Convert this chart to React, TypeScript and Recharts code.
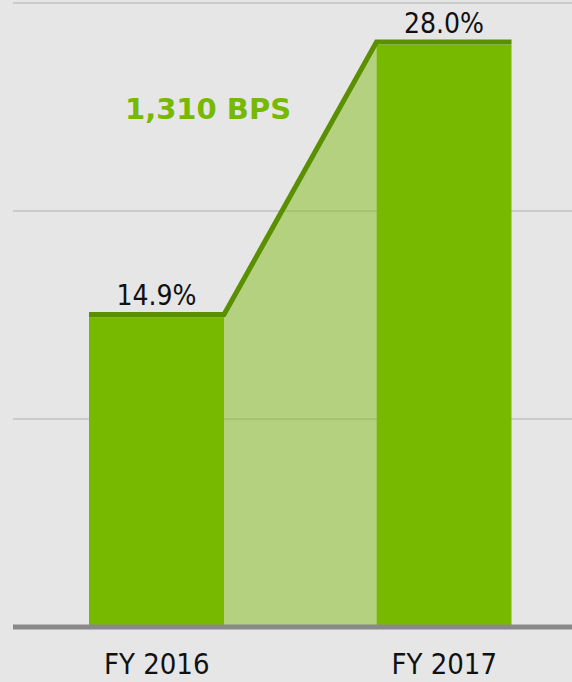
import * as React from "react";
import {
  BarChart,
  Bar,
  XAxis,
  YAxis,
  CartesianGrid,
  LabelList,
} from "recharts";

const CATEGORIES = ["FY 2016", "FY 2017"];
const MARGINS = [14.9, 28.0];
const Y_TICKS = [0, 10, 20, 30];
const CHANGE_LABEL = "1,310 BPS";

const COLORS = {
  background: "#e6e6e6",
  bar: "#76b900", // NVIDIA green
  line: "#5a9000",
  bridge: "#76b900",
  grid: "#cbcbcb",
  axis: "#898989",
  text: "#111111",
};

const LABEL_FONT = "'DejaVu Sans Condensed', 'DejaVu Sans', sans-serif";

// bar geometry gathered while rendering, used to draw the connector
const barGeo: Record<number, { x: number; y: number; width: number; height: number }> = {};

function BarShape(props: any) {
  const { x, y, width, height, index } = props;
  barGeo[index] = { x, y, width, height };
  const rect = <rect x={x} y={y} width={width} height={height} fill={COLORS.bar} />;
  const prev = barGeo[index - 1];
  if (index === 0 || !prev) return rect;

  const base = y + height;
  const x0 = prev.x + prev.width;
  const lw = 5;
  return (
    <g>
      {rect}
      <polygon
        points={`${x0},${prev.y} ${x},${y} ${x},${base} ${x0},${base}`}
        fill={COLORS.bridge}
        fillOpacity={0.45}
      />
      <path
        d={`M${prev.x},${prev.y - lw / 2} H${x0} L${x},${y - lw / 2} H${x + width}`}
        fill="none"
        stroke={COLORS.line}
        strokeWidth={lw}
      />
      <text
        x={x0 - 16}
        y={y + 74}
        textAnchor="middle"
        fill={COLORS.bar}
        fontFamily="'DejaVu Sans', sans-serif"
        fontWeight="bold"
        fontSize={29}
      >
        {CHANGE_LABEL}
      </text>
    </g>
  );
}

export default function App() {
  const data = CATEGORIES.map((name, i) => ({ name, value: MARGINS[i] }));

  return (
    <div
      style={{
        position: "fixed",
        top: 0,
        left: 0,
        width: 572,
        height: 682,
        overflow: "hidden",
        background: COLORS.background,
      }}
    >
      <BarChart
        width={600}
        height={682}
        data={data}
        margin={{ top: 3, right: 12, left: 13, bottom: 15 }}
        barSize={135}
      >
        <CartesianGrid
          vertical={false}
          stroke={COLORS.grid}
          strokeWidth={2}
        />
        <YAxis hide domain={[0, 30]} ticks={Y_TICKS} />
        <XAxis
          dataKey="name"
          height={40}
          tickLine={false}
          tickSize={0}
          tickMargin={26}
          axisLine={{ stroke: COLORS.axis, strokeWidth: 5 }}
          tick={{ fill: COLORS.text, fontSize: 29, fontFamily: LABEL_FONT }}
        />
        <Bar dataKey="value" shape={BarShape} isAnimationActive={false}>
          <LabelList
            dataKey="value"
            position="top"
            offset={12}
            formatter={(v: any) => `${Number(v).toFixed(1)}%`}
            fill={COLORS.text}
            fontSize={28}
            fontFamily={LABEL_FONT}
          />
        </Bar>
      </BarChart>
    </div>
  );
}
